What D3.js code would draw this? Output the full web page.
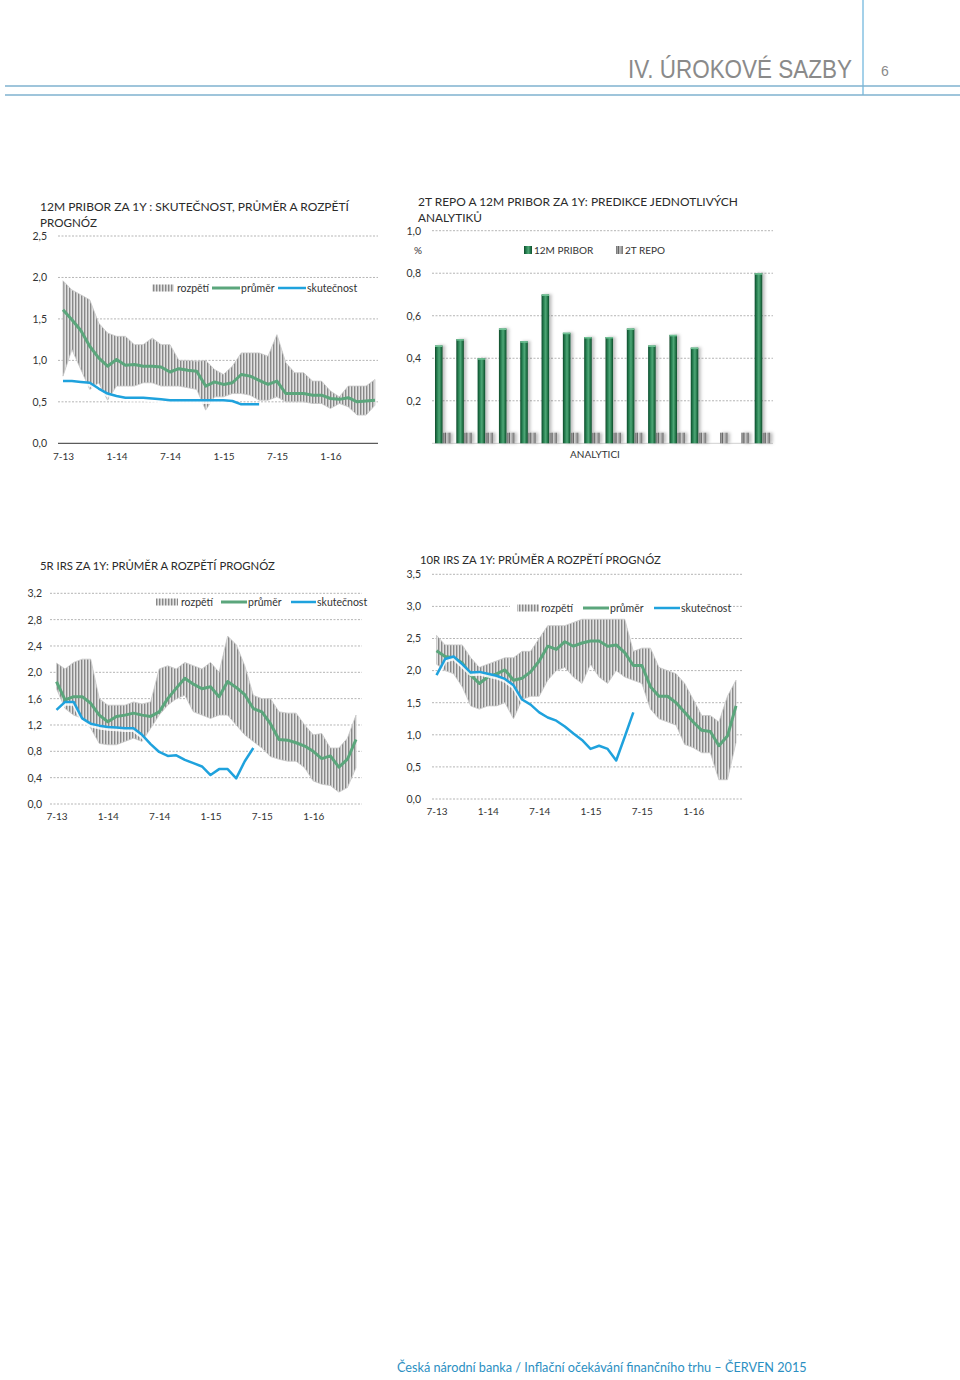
<!DOCTYPE html>
<html><head><meta charset="utf-8">
<script src="https://cdn.jsdelivr.net/npm/d3@7"></script>
<style>body{margin:0;background:#fff} svg{display:block} text{font-family:Lato,'Open Sans',sans-serif;fill:#333}</style>
</head><body><svg id="c" width="960" height="1380"></svg>
<script>
// ---------- DATA ----------
const tickIdx = [0, 6, 12, 18, 24, 30];
const tickLabels = ['7-13', '1-14', '7-14', '1-15', '7-15', '1-16'];

// 12M PRIBOR za 1Y
const pribor_mean = [1.61,1.49,1.36,1.17,1.03,0.93,1.01,0.94,0.95,0.93,0.93,0.92,0.86,0.90,0.88,0.87,0.69,0.74,0.71,0.73,0.83,0.81,0.76,0.71,0.75,0.60,0.60,0.60,0.58,0.58,0.54,0.53,0.55,0.50,0.51,0.52];
const pribor_hi = [1.96,1.85,1.79,1.73,1.45,1.33,1.29,1.29,1.19,1.19,1.27,1.19,1.19,1.00,1.00,0.99,1.00,0.89,0.83,0.93,1.09,1.09,1.09,1.05,1.31,0.97,0.85,0.85,0.75,0.75,0.63,0.56,0.69,0.69,0.69,0.77];
const pribor_lo = [0.81,1.13,0.89,0.65,0.73,0.52,0.69,0.69,0.69,0.73,0.73,0.69,0.69,0.69,0.67,0.65,0.40,0.56,0.56,0.60,0.60,0.58,0.52,0.52,0.56,0.50,0.50,0.50,0.48,0.48,0.42,0.48,0.44,0.34,0.34,0.46];
const pribor_actual = [0.75,0.75,0.74,0.73,0.66,0.60,0.57,0.55,0.55,0.55,0.54,0.53,0.52,0.52,0.52,0.52,0.52,0.52,0.52,0.51,0.47,0.47,0.47];

// 5R IRS za 1Y
const irs5_mean = [1.86,1.58,1.63,1.63,1.53,1.35,1.25,1.33,1.35,1.38,1.35,1.33,1.40,1.60,1.76,1.91,1.82,1.75,1.78,1.63,1.86,1.77,1.66,1.45,1.40,1.22,0.98,0.97,0.93,0.88,0.80,0.69,0.73,0.56,0.68,0.98];
const irs5_hi = [2.14,2.05,2.15,2.20,2.20,1.60,1.50,1.50,1.50,1.55,1.52,1.55,2.05,2.10,2.05,2.15,2.10,2.05,2.15,2.00,2.55,2.42,2.10,1.65,1.60,1.60,1.40,1.38,1.38,1.20,1.05,1.07,0.85,0.85,1.00,1.35];
const irs5_lo = [1.75,1.45,1.35,1.30,1.15,0.92,0.90,0.90,0.95,1.00,0.95,1.15,1.35,1.50,1.60,1.65,1.40,1.35,1.30,1.35,1.35,1.20,1.05,0.95,0.85,0.72,0.68,0.65,0.65,0.55,0.35,0.30,0.28,0.18,0.25,0.55];
const irs5_actual = [1.43,1.55,1.55,1.30,1.22,1.19,1.17,1.16,1.15,1.15,1.05,0.91,0.79,0.73,0.74,0.67,0.62,0.57,0.44,0.53,0.53,0.39,0.65,0.85];

// 10R IRS za 1Y
const irs10_mean = [2.31,2.22,2.20,2.12,1.93,1.80,1.90,1.95,2.01,1.85,1.88,1.98,2.15,2.38,2.33,2.45,2.38,2.43,2.46,2.46,2.38,2.40,2.28,2.08,2.08,1.75,1.60,1.60,1.50,1.35,1.20,1.07,1.05,0.83,0.98,1.45];
const irs10_hi = [2.55,2.40,2.40,2.40,2.20,2.05,2.10,2.15,2.20,2.20,2.30,2.30,2.50,2.70,2.70,2.70,2.75,2.80,2.80,2.80,2.80,2.80,2.80,2.30,2.35,2.35,2.05,2.00,1.95,1.80,1.55,1.30,1.30,1.20,1.60,1.85];
const irs10_lo = [2.10,2.00,1.95,1.75,1.45,1.40,1.45,1.45,1.50,1.25,1.55,1.60,1.60,1.85,2.00,2.05,1.90,1.80,2.10,1.90,1.80,2.00,1.90,1.85,1.80,1.40,1.25,1.20,1.15,0.85,0.80,0.72,0.72,0.30,0.30,0.88];
const irs10_actual = [1.93,2.18,2.22,2.10,1.97,1.98,1.95,1.92,1.87,1.77,1.55,1.47,1.35,1.27,1.22,1.13,1.02,0.92,0.78,0.83,0.78,0.60,0.97,1.35];

// Analysts' predictions
const analysts = ['1','2','3','4','5','6','7','8','9','10','11','12','13','14','15','16'];
const analyst_pribor = [0.46,0.49,0.40,0.54,0.48,0.70,0.52,0.50,0.50,0.54,0.46,0.51,0.45,null,null,0.80];
const analyst_repo = [0.05,0.05,0.05,0.05,0.05,0.05,0.05,0.05,0.05,0.05,0.05,0.05,0.05,0.05,0.05,0.05];

// ---------- DRAWING ----------
const svg = d3.select('#c');
const fmt = v => d3.format('.1f')(v).replace('.', ',');
const GREEN = '#5ba67c', BLUE = '#1fa2dd';

const defs = svg.append('defs');
const pat = defs.append('pattern').attr('id', 'hatch').attr('patternUnits', 'userSpaceOnUse').attr('width', 3).attr('height', 6);
pat.append('rect').attr('width', 3).attr('height', 6).attr('fill', '#e2e2e2');
pat.append('rect').attr('width', 1.4).attr('height', 6).attr('fill', '#888');

const gG = defs.append('linearGradient').attr('id', 'gbar').attr('x1', 0).attr('x2', 1).attr('y1', 0).attr('y2', 0);
[['0%', '#0e4a2a'], ['30%', '#2a8455'], ['55%', '#4fa777'], ['80%', '#25784b'], ['100%', '#0f4b2b']].forEach(s => gG.append('stop').attr('offset', s[0]).attr('stop-color', s[1]));
const gR = defs.append('linearGradient').attr('id', 'rbar').attr('x1', 0).attr('x2', 1).attr('y1', 0).attr('y2', 0);
[['0%', '#6e6e6e'], ['45%', '#d8d8d8'], ['100%', '#707070']].forEach(s => gR.append('stop').attr('offset', s[0]).attr('stop-color', s[1]));
const sh = defs.append('filter').attr('id', 'shadow').attr('x', '-50%').attr('y', '-10%').attr('width', '250%').attr('height', '120%');
sh.append('feDropShadow').attr('dx', 2.5).attr('dy', 0).attr('stdDeviation', 1.5).attr('flood-color', '#000').attr('flood-opacity', 0.25);

// fit a text to a target width by horizontal scaling (keeps the real bbox honest)
function fitText(sel, x, y, target, anchor) {
  const len = sel.node().getComputedTextLength();
  const k = Math.min(1, target / len);
  sel.attr('text-anchor', anchor || 'start').attr('transform', `translate(${x},${y}) scale(${k},1)`);
  return sel;
}

// Header
svg.append('line').attr('x1', 863).attr('x2', 863).attr('y1', 0).attr('y2', 95).attr('stroke', '#4aa3d4').attr('stroke-width', 1);
[86, 95].forEach(y => svg.append('line').attr('x1', 5).attr('x2', 960).attr('y1', y).attr('y2', y).attr('stroke', '#7fb2cf').attr('stroke-width', 1.5));
fitText(svg.append('text')
  .style('font-family', "'Liberation Sans Narrow','Liberation Sans',sans-serif").style('font-size', '26px').style('fill', '#8a8a8a')
  .text('IV. ÚROKOVÉ SAZBY'), 852, 78, 224, 'end');
svg.append('text').attr('x', 881).attr('y', 76).style('font-family', "'Liberation Sans',sans-serif").style('font-size', '14px').style('fill', '#8a8a8a').text('6');

// Footer
fitText(svg.append('text').style('font-size', '14px').style('fill', '#2b8fc2')
  .text('Česká národní banka / Inflační očekávání finančního trhu – ČERVEN 2015'), 397, 1372, 410);

function title(lines, x, y0, lens) {
  lines.forEach((t, i) => fitText(svg.append('text').style('font-size', '12px').style('fill', '#2a2a2a').text(t), x, y0 + i * 16, lens[i]));
}

function rangeChart(c) {
  const n = c.mean.length;
  const x = d3.scaleLinear().domain([0, n - 1]).range([c.xStart, c.xEnd]);
  const y = d3.scaleLinear().domain([0, c.yMax]).range([c.yBottom, c.yTop]);
  const g = svg.append('g');
  // grid
  g.selectAll('line.grid').data(c.yTicks).join('line')
    .attr('x1', c.gridL).attr('x2', c.gridR).attr('y1', d => y(d)).attr('y2', d => y(d))
    .attr('stroke', d => (d === 0 && c.solidBase) ? '#333' : '#b5b5b5')
    .attr('stroke-dasharray', d => (d === 0 && c.solidBase) ? null : '2,1.5');
  // y axis labels
  const ya = g.append('g').attr('transform', `translate(${c.yLabelX},0)`)
    .call(d3.axisLeft(y).tickValues(c.yTicks).tickFormat(fmt).tickSize(0).tickPadding(0));
  ya.select('.domain').remove();
  ya.selectAll('text').style('font-size', '10.5px').style('fill', '#333').style('font-family', 'Lato,sans-serif');
  // x axis labels
  const xa = g.append('g').attr('transform', `translate(0,${c.xLabelY - 4})`)
    .call(d3.axisBottom(x).tickValues(tickIdx).tickFormat((d, i) => tickLabels[i]).tickSize(0).tickPadding(0));
  xa.select('.domain').remove();
  xa.selectAll('text').style('font-size', '10px').style('fill', '#333').style('font-family', 'Lato,sans-serif');
  // legend background
  if (c.lg.bgW) g.append('rect').attr('x', c.lg.bgX).attr('y', c.lg.y - 10).attr('width', c.lg.bgW).attr('height', 20).attr('fill', '#fff');
  // range band
  const idx = d3.range(n);
  g.append('path').datum(idx)
    .attr('d', d3.area().x(i => x(i)).y0(i => y(c.lo[i])).y1(i => y(c.hi[i])))
    .attr('fill', 'url(#hatch)').attr('stroke', '#c8c8c8').attr('stroke-width', 0.8);
  // mean
  g.append('path').datum(idx)
    .attr('d', d3.line().x(i => x(i)).y(i => y(c.mean[i])))
    .attr('fill', 'none').attr('stroke', GREEN).attr('stroke-width', 3).attr('stroke-linejoin', 'round');
  // actual
  const ai = d3.range(c.actual.length);
  g.append('path').datum(ai)
    .attr('d', d3.line().x(i => x(i)).y(i => y(c.actual[i]) + 2))
    .attr('fill', 'none').attr('stroke', '#fff').attr('stroke-opacity', 0.85).attr('stroke-width', 3.5).attr('stroke-linejoin', 'round');
  g.append('path').datum(ai)
    .attr('d', d3.line().x(i => x(i)).y(i => y(c.actual[i])))
    .attr('fill', 'none').attr('stroke', BLUE).attr('stroke-width', 2.5).attr('stroke-linejoin', 'round');
  // legend
  const L = c.lg;
  g.append('rect').attr('x', L.hx).attr('y', L.y - 3.5).attr('width', 22).attr('height', 7).attr('fill', 'url(#hatch)');
  g.append('text').attr('x', L.t1).attr('y', L.y + 3.5).style('font-size', '10.5px').text('rozpětí');
  g.append('line').attr('x1', L.g1).attr('x2', L.g2).attr('y1', L.y).attr('y2', L.y).attr('stroke', GREEN).attr('stroke-width', 3);
  g.append('text').attr('x', L.t2).attr('y', L.y + 3.5).style('font-size', '10.5px').text('průměr');
  g.append('line').attr('x1', L.b1).attr('x2', L.b2).attr('y1', L.y).attr('y2', L.y).attr('stroke', BLUE).attr('stroke-width', 2.5);
  g.append('text').attr('x', L.t3).attr('y', L.y + 3.5).style('font-size', '10.5px').text('skutečnost');
}

// Chart 1
title(['12M PRIBOR ZA 1Y : SKUTEČNOST, PRŮMĚR A ROZPĚTÍ', 'PROGNÓZ'], 40, 211, [311, 57]);
rangeChart({
  mean: pribor_mean, hi: pribor_hi, lo: pribor_lo, actual: pribor_actual,
  yMax: 2.5, yTicks: [0, 0.5, 1, 1.5, 2, 2.5], yBottom: 443.3, yTop: 236,
  xStart: 63, xEnd: 375, gridL: 58, gridR: 378, yLabelX: 47, xLabelY: 457, solidBase: true,
  lg: { bgX: 145, bgW: 213, y: 288, hx: 152, t1: 177, g1: 212, g2: 240, t2: 241, b1: 278, b2: 306, t3: 307 }
});

// Chart 3
title(['5R IRS ZA 1Y: PRŮMĚR A ROZPĚTÍ PROGNÓZ'], 40, 570, [235]);
rangeChart({
  mean: irs5_mean, hi: irs5_hi, lo: irs5_lo, actual: irs5_actual,
  yMax: 3.2, yTicks: [0, 0.4, 0.8, 1.2, 1.6, 2.0, 2.4, 2.8, 3.2], yBottom: 804, yTop: 593.3,
  xStart: 56.5, xEnd: 356, gridL: 50, gridR: 362, yLabelX: 42, xLabelY: 817, solidBase: false,
  lg: { bgX: 152, bgW: 0, y: 602, hx: 156, t1: 181, g1: 221, g2: 247, t2: 248, b1: 291, b2: 316, t3: 317 }
});

// Chart 4
title(['10R IRS ZA 1Y: PRŮMĚR A ROZPĚTÍ PROGNÓZ'], 420, 564, [241]);
rangeChart({
  mean: irs10_mean, hi: irs10_hi, lo: irs10_lo, actual: irs10_actual,
  yMax: 3.5, yTicks: [0, 0.5, 1, 1.5, 2, 2.5, 3, 3.5], yBottom: 799, yTop: 574.3,
  xStart: 436.5, xEnd: 736, gridL: 432, gridR: 742, yLabelX: 421, xLabelY: 812, solidBase: false,
  lg: { bgX: 510, bgW: 220, y: 608, hx: 517, t1: 541, g1: 583, g2: 609, t2: 610, b1: 654, b2: 680, t3: 681 }
});

// Chart 2 (bars)
title(['2T REPO A 12M PRIBOR ZA 1Y: PREDIKCE JEDNOTLIVÝCH', 'ANALYTIKŮ'], 418, 206, [320, 64]);
(function () {
  const x0 = d3.scaleBand().domain(analysts).range([432, 773]);
  const x1 = d3.scaleBand().domain(['pribor', 'repo']).range([3, 18.5]).paddingInner(0.05);
  const y = d3.scaleLinear().domain([0, 1]).range([443.3, 230.7]);
  const g = svg.append('g');
  const ticks = [0.2, 0.4, 0.6, 0.8, 1.0];
  g.selectAll('line.grid').data(ticks).join('line')
    .attr('x1', 432).attr('x2', 773).attr('y1', d => y(d)).attr('y2', d => y(d))
    .attr('stroke', '#b5b5b5').attr('stroke-dasharray', '2,1.5');
  g.append('line').attr('x1', 432).attr('x2', 773).attr('y1', y(0)).attr('y2', y(0)).attr('stroke', '#d0d0d0');
  const ya = g.append('g').attr('transform', 'translate(421,0)')
    .call(d3.axisLeft(y).tickValues(ticks).tickFormat(fmt).tickSize(0).tickPadding(0));
  ya.select('.domain').remove();
  ya.selectAll('text').style('font-size', '10.5px').style('fill', '#333').style('font-family', 'Lato,sans-serif');
  g.append('text').attr('x', 414).attr('y', 254).style('font-size', '10px').text('%');
  // bars
  const bars = g.append('g').attr('filter', 'url(#shadow)');
  analysts.forEach((a, i) => {
    if (analyst_pribor[i] != null) {
      bars.append('rect').attr('x', x0(a) + x1('pribor')).attr('width', x1.bandwidth())
        .attr('y', y(analyst_pribor[i])).attr('height', y(0) - y(analyst_pribor[i])).attr('fill', 'url(#gbar)');
      bars.append('rect').attr('x', x0(a) + x1('pribor')).attr('width', x1.bandwidth())
        .attr('y', y(analyst_pribor[i])).attr('height', 1.5).attr('fill', '#6fc194');
    }
    bars.append('rect').attr('x', x0(a) + x1('repo')).attr('width', x1.bandwidth())
      .attr('y', y(analyst_repo[i])).attr('height', y(0) - y(analyst_repo[i])).attr('fill', 'url(#rbar)');
    bars.append('rect').attr('x', x0(a) + x1('repo') + 2).attr('width', 1.2)
      .attr('y', y(analyst_repo[i])).attr('height', y(0) - y(analyst_repo[i])).attr('fill', '#666');
  });
  g.append('text').attr('x', 595).attr('y', 458).attr('text-anchor', 'middle').style('font-size', '10px').text('ANALYTICI');
  // legend
  g.append('rect').attr('x', 524).attr('y', 246).attr('width', 8).attr('height', 8).attr('fill', 'url(#gbar)');
  g.append('text').attr('x', 534).attr('y', 254).style('font-size', '10px').text('12M PRIBOR');
  g.append('rect').attr('x', 616).attr('y', 246).attr('width', 7).attr('height', 8).attr('fill', 'url(#rbar)');
  g.append('rect').attr('x', 618).attr('y', 246).attr('width', 1.2).attr('height', 8).attr('fill', '#666');
  g.append('text').attr('x', 625).attr('y', 254).style('font-size', '10px').text('2T REPO');
})();
</script></body></html>
